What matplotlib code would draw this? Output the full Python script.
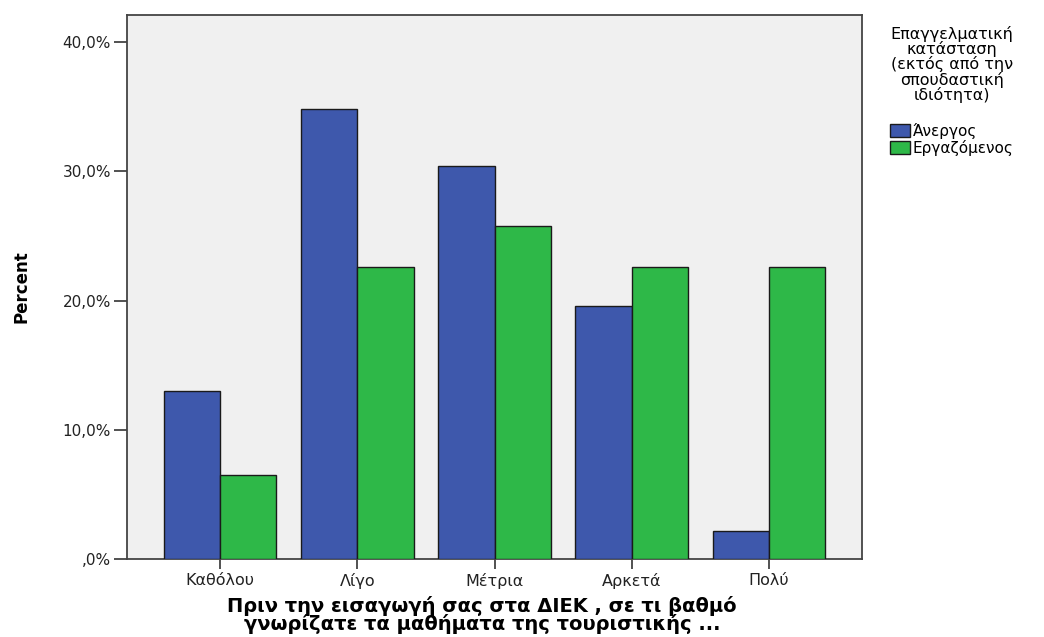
import matplotlib
matplotlib.use("Agg")
import matplotlib.pyplot as plt
import numpy as np
from matplotlib.ticker import FuncFormatter

categories = ["Καθόλου", "Λίγο", "Μέτρια", "Αρκετά", "Πολύ"]
series_names = ["Άνεργος", "Εργαζόμενος"]
unemployed = [13.0, 34.8, 30.4, 19.6, 2.2]
employed = [6.5, 22.6, 25.8, 22.6, 22.6]
yticks = [0, 10, 20, 30, 40]
colors = ["#3E58AC", "#2EB848"]

plt.rcParams['font.family'] = ['DejaVu Sans']

fig = plt.figure(figsize=(10.44, 6.37), dpi=100)
ax = fig.add_axes([127/1044, 1 - 559/637, (862-127)/1044, (559-15)/637])
ax.set_facecolor("#F0F0F0")

x = np.arange(len(categories))
w = 0.41
ax.bar(x - w/2, unemployed, w, color=colors[0], edgecolor="#1a1a1a", linewidth=1.0, label=series_names[0], zorder=3)
ax.bar(x + w/2, employed, w, color=colors[1], edgecolor="#1a1a1a", linewidth=1.0, label=series_names[1], zorder=3)

ax.set_xlim(-0.678, 4.678)
ax.set_ylim(0, 42.1)
ax.set_xticks(x)
ax.set_xticklabels(categories)
ax.set_yticks(yticks)
ax.yaxis.set_major_formatter(FuncFormatter(lambda v, p: ",0%" if v == 0 else f"{v:.1f}%".replace(".", ",")))
ax.tick_params(axis='y', length=9.5, width=1.2, labelsize=11, color="#333333", pad=2, labelcolor="#222222")
ax.tick_params(axis='x', length=7, width=1.2, labelsize=11.5, color="#333333", pad=3, labelcolor="#222222")
for s in ax.spines.values():
    s.set_color("#444444")
    s.set_linewidth(1.3)

ax.set_ylabel("Percent", fontsize=12, fontweight='bold')
ax.yaxis.set_label_coords(-0.143, 0.5)
ax.yaxis.label.set_va('center')
ax.set_xlabel("Πριν την εισαγωγή σας στα ΔΙΕΚ , σε τι βαθμό\nγνωρίζατε τα μαθήματα της τουριστικής ...",
              fontsize=14, fontweight='bold', linespacing=0.85)
ax.xaxis.set_label_coords(0.483, -0.068)
ax.xaxis.label.set_va('top')

leg = ax.legend(title="Επαγγελματική\nκατάσταση\n(εκτός από την\nσπουδαστική\nιδιότητα)",
                loc='upper center', bbox_to_anchor=((952 - 127) / 735, 1.0), frameon=False,
                fontsize=11, title_fontsize=11.5, handlelength=1.25, handleheight=0.95,
                handletextpad=0.2, labelspacing=0.1, borderaxespad=0.4, borderpad=0.3)
leg.get_title().set_multialignment('center')
leg.get_title().set_linespacing(0.95)
leg._legend_box.sep = 14

fig.savefig("out.png", dpi=100, facecolor="white")
